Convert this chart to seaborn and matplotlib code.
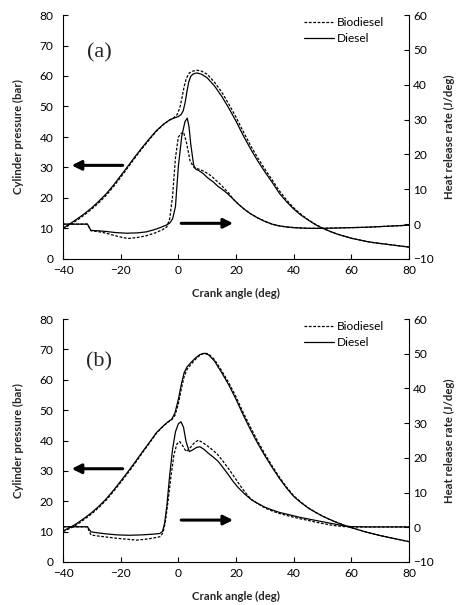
import matplotlib
matplotlib.use("Agg")
import matplotlib.pyplot as plt
import seaborn as sns

# ---------------- data ----------------
# Panel (a): cylinder pressure (bar)
a_dsl_p_x = [-40, -37.5, -35, -32.5, -30, -27.5, -25, -22.5, -20, -17.5, -15, -12.5, -10, -7.5, -5, -3, -1.5, 0, 1, 1.7, 2.4, 3, 3.6, 4.3, 5.2, 6.5, 8, 10, 12.5, 15, 17.5, 20, 22.5, 25, 27.5, 30, 32.5, 35, 37.5, 40, 42.5, 45, 47.5, 50, 52.5, 55, 57.5, 60, 62.5, 65, 67.5, 70, 72.5, 75, 77.5, 80]
a_dsl_p_y = [10.1, 11.6, 13.2, 14.9, 16.8, 19.0, 21.4, 24.2, 27.3, 30.4, 33.6, 36.6, 39.5, 42.2, 44.3, 45.6, 46.2, 46.7, 47.4, 48.6, 51.5, 55, 58, 59.9, 60.7, 61.0, 60.6, 59.4, 56.8, 53.4, 49.5, 45.2, 40.5, 36.2, 32.2, 28.6, 25.2, 21.6, 18.8, 16.4, 14.4, 12.8, 11.3, 10.1, 9.1, 8.2, 7.5, 6.8, 6.3, 5.8, 5.4, 5.1, 4.8, 4.5, 4.2, 3.9]
a_bio_p_x = [-40, -37.5, -35, -32.5, -30, -27.5, -25, -22.5, -20, -17.5, -15, -12.5, -10, -7.5, -5, -3, -1.5, -0.5, 0.5, 1.3, 2, 2.8, 3.8, 5, 6.5, 8, 10, 12.5, 15, 17.5, 20, 22.5, 25, 27.5, 30, 32.5, 35, 37.5, 40, 42.5, 45, 47.5, 50, 52.5, 55, 57.5, 60, 62.5, 65, 67.5, 70, 72.5, 75, 77.5, 80]
a_bio_p_y = [9.9, 11.3, 12.8, 14.5, 16.4, 18.5, 20.9, 23.7, 26.8, 30.0, 33.2, 36.3, 39.2, 42.0, 44.2, 45.6, 46.4, 47.2, 49.5, 53, 56.5, 59.3, 61, 61.6, 61.9, 61.6, 60.6, 58, 54.8, 50.8, 46.5, 41.8, 37.3, 33.2, 29.5, 26, 22.4, 19.4, 16.8, 14.7, 12.9, 11.4, 10.1, 9.1, 8.2, 7.5, 6.8, 6.3, 5.8, 5.4, 5.1, 4.8, 4.5, 4.2, 3.9]
# Panel (a): heat release rate (J/deg)
a_dsl_h_x = [-40, -35, -31.5, -31, -30.3, -28, -25, -22, -18, -14, -11, -8, -6, -4, -3, -2, -1, 0, 1.2, 2.3, 3.1, 3.7, 4.3, 5.3, 6, 7, 8.5, 10.3, 12, 13.8, 15.5, 17, 19, 21, 23, 25, 27.5, 30, 32.5, 35, 37.5, 40, 45, 50, 55, 60, 65, 70, 75, 80]
a_dsl_h_y = [0.0, 0.0, 0.0, -0.8, -1.8, -1.9, -2.1, -2.4, -2.6, -2.5, -2.2, -1.5, -0.9, -0.2, 0.3, 1.5, 5, 16.5, 25.3, 29.4, 30.4, 28, 23, 17, 15.8, 15.4, 14.6, 13.2, 12.2, 10.8, 9.8, 8.8, 7.2, 5.6, 4.2, 3.0, 1.8, 0.8, 0.0, -0.5, -0.8, -1.0, -1.2, -1.2, -1.1, -1.0, -0.9, -0.7, -0.5, -0.3]
a_bio_h_x = [-40, -35, -31.5, -31, -30.3, -28, -25, -22, -19, -17, -14, -11, -8, -5.5, -4, -3, -2, -1, 0, 1, 1.8, 2.8, 4.1, 5.5, 7, 8.5, 10, 11.5, 13, 14.5, 16.2, 17.5, 19, 21, 23, 25, 27.5, 30, 32.5, 35, 37.5, 40, 45, 50, 55, 60, 65, 70, 75, 80]
a_bio_h_y = [0.0, 0.0, 0.0, -0.8, -1.9, -2.1, -2.6, -3.3, -3.9, -4.1, -3.8, -3.3, -2.5, -1.6, -0.8, 1.5, 8, 19, 25, 26, 26.4, 23.5, 18, 16.2, 15.8, 15.3, 14.6, 13.8, 12.6, 11.5, 10.0, 8.9, 7.2, 5.6, 4.2, 3.0, 1.8, 0.8, 0.0, -0.5, -0.8, -1.0, -1.2, -1.2, -1.1, -1.0, -0.9, -0.7, -0.5, -0.3]

# Panel (b): cylinder pressure (bar)
b_dsl_p_x = [-40, -37.5, -35, -32.5, -30, -27.5, -25, -22.5, -20, -17.5, -15, -12.5, -10, -7.5, -5, -3.5, -2.3, -1.2, 0, 1, 2, 3, 4.5, 6, 7.5, 9, 10.5, 12.5, 15, 17.5, 20, 22.5, 25, 27.5, 30, 32.5, 35, 37.5, 40, 42.5, 45, 47.5, 50, 52.5, 55, 57.5, 60, 62.5, 65, 67.5, 70, 72.5, 75, 77.5, 80]
b_dsl_p_y = [10.2, 11.4, 12.8, 14.5, 16.3, 18.4, 20.8, 23.6, 26.6, 29.7, 32.9, 36.2, 39.4, 42.7, 45, 46.2, 47, 49, 53.5, 58.3, 62.3, 64.2, 65.8, 67.2, 68.3, 68.7, 68.2, 66.2, 62.4, 58.3, 53.6, 48.4, 43.6, 39.1, 35, 31.2, 27.6, 24.4, 21.6, 19.6, 17.8, 16.4, 15.1, 14, 13, 12.1, 11.3, 10.6, 9.9, 9.3, 8.7, 8.2, 7.7, 7.2, 6.7]
b_bio_p_x = [-40, -37.5, -35, -32.5, -30, -27.5, -25, -22.5, -20, -17.5, -15, -12.5, -10, -7.5, -5, -3.5, -2.3, -1.2, 0, 1, 2, 3, 4.5, 6, 7.5, 9, 10.5, 12.5, 15, 17.5, 20, 22.5, 25, 27.5, 30, 32.5, 35, 37.5, 40, 42.5, 45, 47.5, 50, 52.5, 55, 57.5, 60, 62.5, 65, 67.5, 70, 72.5, 75, 77.5, 80]
b_bio_p_y = [10.0, 11.1, 12.4, 14.1, 15.9, 18.0, 20.4, 23.2, 26.2, 29.3, 32.5, 35.9, 39.2, 42.5, 44.9, 46.1, 46.8, 48.2, 52, 56.8, 61, 63.4, 65.2, 66.8, 68.1, 68.8, 68.5, 66.7, 63, 59, 54.4, 49.2, 44.4, 39.8, 35.6, 31.7, 28, 24.7, 21.8, 19.7, 17.9, 16.4, 15.1, 14, 13, 12.1, 11.3, 10.6, 9.9, 9.3, 8.7, 8.2, 7.7, 7.2, 6.7]
# Panel (b): heat release rate (J/deg)
b_dsl_h_x = [-40, -35, -31.5, -31, -30.3, -28, -25, -21, -17, -13, -9, -6.5, -5.5, -4.8, -4, -3, -2, -1, 0, 0.9, 1.8, 2.7, 3.8, 5, 6.3, 7.5, 9, 10.3, 12, 13.8, 15.5, 17.3, 19, 20.8, 23, 25.4, 27.5, 30, 32.5, 35, 37.5, 40, 42.5, 45, 47.5, 50, 52.5, 55, 57.5, 60, 65, 70, 75, 80]
b_dsl_h_y = [0.15, 0.15, 0.15, -0.5, -1.3, -1.6, -1.9, -2.2, -2.3, -2.2, -2.0, -1.8, -1.2, 1, 6, 15, 22.5, 27.5, 29.8, 30.4, 28.8, 24.6, 21.8, 22.3, 23, 23.2, 22.4, 21.4, 20.3, 19, 17.2, 15.2, 13.2, 11.4, 9.6, 7.9, 6.9, 5.8, 5.0, 4.3, 3.8, 3.3, 2.8, 2.4, 2.0, 1.6, 1.2, 0.8, 0.4, 0.2, 0.1, 0.1, 0.1, 0.1]
b_bio_h_x = [-40, -35, -31.5, -31, -30.3, -28, -25, -21, -17, -14.4, -11, -8, -6.3, -5.3, -4.5, -3.5, -2.5, -1.5, -0.5, 0.5, 1.5, 2.7, 4, 5.5, 6.9, 8.5, 10.3, 12, 13.8, 15.5, 17.3, 19, 20.8, 22.5, 24, 25.4, 27.5, 30, 32.5, 35, 37.5, 40, 42.5, 45, 47.5, 50, 52.5, 55, 57.5, 60, 65, 70, 75, 80]
b_bio_h_y = [0.15, 0.15, 0.15, -1.0, -2.2, -2.5, -2.8, -3.2, -3.5, -3.7, -3.4, -3.0, -2.7, -1.5, 1.5, 8, 15, 21, 24, 24.7, 23.5, 21.8, 22.8, 24.3, 25.1, 24.4, 23.3, 22.2, 20.8, 19, 17, 15, 12.8, 10.8, 9.2, 8.0, 6.8, 5.6, 4.7, 4.0, 3.4, 2.9, 2.4, 2.0, 1.5, 1.1, 0.7, 0.4, 0.2, 0.1, 0.1, 0.1, 0.1, 0.1]

x_ticks = [-40, -20, 0, 20, 40, 60, 80]
p_ticks = [0, 10, 20, 30, 40, 50, 60, 70, 80]
h_ticks = [-10, 0, 10, 20, 30, 40, 50, 60]
series_names = ["Biodiesel", "Diesel"]
panel_labels = ["(a)", "(b)"]
x_label = "Crank angle (deg)"
p_label = "Cylinder pressure (bar)"
h_label = "Heat release rate (J/deg)"

# ---------------- style ----------------
sns.set_style("white")
plt.rcParams['font.family'] = ['Lato', 'DejaVu Sans']
plt.rcParams['axes.linewidth'] = 0.8

fig = plt.figure(figsize=(4.58, 6.05), dpi=100)
L, R = 63 / 458, 409 / 458
axA = fig.add_axes([L, 1 - 259 / 605, R - L, (259 - 15) / 605])
axB = fig.add_axes([L, 1 - 562 / 605, R - L, (562 - 319) / 605])

DASH = (0, (2.2, 1.3))
LW = 0.9
FS = 8.6
LFS = 8.2


def panel(ax, label, dpx, dpy, bpx, bpy, dhx, dhy, bhx, bhy, arrow_r_y, label_y):
    ax2 = ax.twinx()
    sns.lineplot(x=bpx, y=bpy, ax=ax, color='black', lw=LW, linestyle=DASH, sort=False)
    sns.lineplot(x=dpx, y=dpy, ax=ax, color='black', lw=LW, sort=False)
    sns.lineplot(x=bhx, y=bhy, ax=ax2, color='black', lw=LW, linestyle=DASH, sort=False,
                 label=series_names[0])
    sns.lineplot(x=dhx, y=dhy, ax=ax2, color='black', lw=LW, sort=False,
                 label=series_names[1])
    ax.set_xlim(-40, 80)
    ax.set_ylim(0, 80)
    ax2.set_ylim(-10, 60)
    ax.set_xticks(x_ticks)
    ax.set_yticks(p_ticks)
    ax2.set_yticks(h_ticks)
    for a in (ax, ax2):
        a.spines['top'].set_visible(False)
        for s in a.spines.values():
            s.set_color('black')
            s.set_linewidth(0.8)
    ax.spines['right'].set_visible(False)
    ax2.spines['left'].set_visible(False)
    ax2.spines['bottom'].set_visible(False)
    ax.tick_params(axis='y', direction='in', length=3.5, width=0.8, pad=7, labelsize=FS,
                   left=True, colors='black')
    ax.tick_params(axis='x', direction='in', length=3.5, width=0.8, pad=4, labelsize=FS,
                   bottom=True, colors='black')
    ax2.tick_params(axis='y', direction='in', length=3.5, width=0.8, pad=3, labelsize=FS,
                    right=True, colors='black')
    ax.set_xlabel(x_label, fontsize=LFS, fontweight='bold', labelpad=9)
    ax.set_ylabel(p_label, fontsize=LFS, fontweight='bold', labelpad=11)
    ax2.set_ylabel(h_label, fontsize=LFS, fontweight='bold', labelpad=7)
    ax.text(-27.5, label_y, label, family=['Liberation Serif', 'DejaVu Serif'],
            fontsize=16, ha='center', va='center')
    arrow = dict(arrowstyle='-|>', lw=2.2, color='black', mutation_scale=14,
                 shrinkA=0, shrinkB=0)
    ax.annotate('', xy=(-37, 30.7), xytext=(-19.3, 30.7), arrowprops=arrow)
    ax.annotate('', xy=(19, arrow_r_y), xytext=(1, arrow_r_y), arrowprops=arrow)
    leg = ax2.legend(loc='upper right', bbox_to_anchor=(0.95, 1.02), frameon=False,
                     fontsize=FS, handlelength=2.5, handletextpad=0.3, labelspacing=0.4,
                     borderaxespad=0.2)
    for t in leg.get_texts():
        t.set_color('black')
    ax2.set_xlim(-40, 80)


panel(axA, panel_labels[0], a_dsl_p_x, a_dsl_p_y, a_bio_p_x, a_bio_p_y,
      a_dsl_h_x, a_dsl_h_y, a_bio_h_x, a_bio_h_y, 11.7, 67.5)
panel(axB, panel_labels[1], b_dsl_p_x, b_dsl_p_y, b_bio_p_x, b_bio_p_y,
      b_dsl_h_x, b_dsl_h_y, b_bio_h_x, b_bio_h_y, 13.8, 65.8)

fig.savefig("out.png", dpi=100)
